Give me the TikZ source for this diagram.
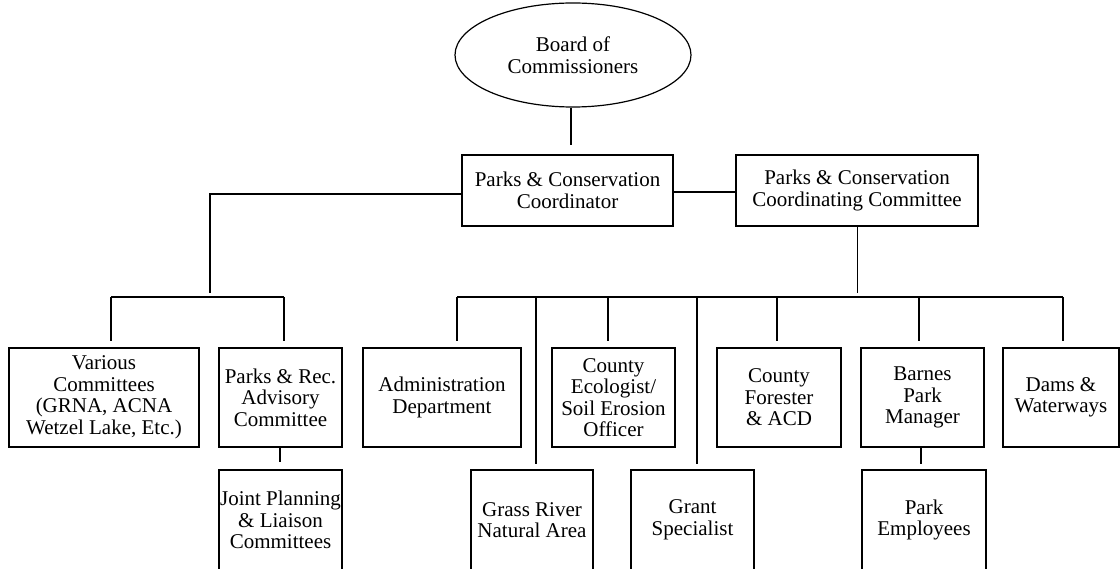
\documentclass[tikz,border=0pt]{standalone}
\usepackage{fontspec}
\setmainfont{Liberation Serif}
\usetikzlibrary{shapes.geometric}
\begin{document}
\begin{tikzpicture}[x=1pt,y=-1pt,
  line width=1.2pt,
  txt/.style={align=center, inner sep=0pt, font=\fontsize{21}{21.5}\selectfont},
  box/.style={txt, draw, rectangle, minimum height=99pt},
  lowbox/.style={txt, draw, rectangle, minimum height=100pt},
  oval/.style={txt, draw, ellipse, minimum width=236pt, minimum height=104pt},
  drop/.style={shorten >=6pt},
  gap/.style={shorten >=#1}]
\useasboundingbox (0,0) rectangle (1120,569);
% top
\node[oval] (board) at (573,55) {Board of\\Commissioners};
\node[box, minimum width=211pt, minimum height=71pt] (coord) at (567.5,190.5) {Parks \& Conservation\\Coordinator};
\node[box, minimum width=242pt, minimum height=71pt] (ccc) at (857,190.5) {Parks \& Conservation\\Coordinating Committee};
% left branch
\node[box, minimum width=190pt] (various) at (104,397.5) {Various\\Committees\\(GRNA, ACNA\\Wetzel Lake, Etc.)};
\node[box, minimum width=123pt] (prac) at (280.5,397.5) {Parks \& Rec.\\Advisory\\Committee};
\node[lowbox, minimum width=123pt] (joint) at (280.5,520) {Joint Planning\\\& Liaison\\Committees};
% right branch
\node[box, minimum width=158pt] (admin) at (442,397.5) {Administration\\Department};
\node[box, minimum width=123pt] (ecol) at (613.5,397.5) {County\\Ecologist/\\Soil Erosion\\Officer};
\node[box, minimum width=124pt] (forester) at (779,397.5) {County\\Forester\\\& ACD};
\node[box, minimum width=123pt] (barnes) at (922.5,397.5) {Barnes\\Park\\Manager};
\node[box, minimum width=116pt] (dams) at (1061,397.5) {Dams \&\\Waterways};
\node[lowbox, minimum width=122pt] (grass) at (532,520) {Grass River\\Natural Area};
\node[lowbox, minimum width=123pt] (grant) at (692.5,520) {Grant\\Specialist};
\node[lowbox, minimum width=124pt] (employees) at (924,520) {Park\\Employees};
% bus coordinates
\coordinate (ljoin) at (210,293);
\coordinate (lbl) at (111,297);
\coordinate (lbr) at (284,297);
\coordinate (rbl) at (457,297);
\coordinate (rbr) at (1063,297);
% connectors top
\draw[gap=9pt] ([xshift=-2pt]board.south) -- ([xshift=-2pt]board.south |- coord.north);
\draw ([yshift=-1.5pt]coord.east) -- ([yshift=-1.5pt]ccc.west);
\draw ([yshift=-3.5pt]coord.west) -| (ljoin);
\draw ([xshift=0.5pt]ccc.south) -- ++(0,66);
% left bus
\draw (lbl) -- (lbr);
\draw[drop] (lbl) -- ([xshift=7pt]various.north);
\draw[drop] (lbr) -- ([xshift=3.5pt]prac.north);
\draw[gap=7pt] ([xshift=-0.5pt]prac.south) -- ([xshift=-0.5pt]joint.north);
% right bus
\draw (rbl) -- (rbr);
\draw[drop] (rbl) -- ([xshift=15pt]admin.north);
\draw[gap=5pt] ([xshift=4pt]grass.north |- rbl) -- ([xshift=4pt]grass.north);
\draw[drop] ([xshift=-5.5pt]ecol.north |- rbl) -- ([xshift=-5.5pt]ecol.north);
\draw[gap=5pt] ([xshift=4.5pt]grant.north |- rbl) -- ([xshift=4.5pt]grant.north);
\draw[drop] ([xshift=-2pt]forester.north |- rbl) -- ([xshift=-2pt]forester.north);
\draw[drop] ([xshift=-3.5pt]barnes.north |- rbl) -- ([xshift=-3.5pt]barnes.north);
\draw[drop] (rbr) -- ([xshift=2pt]dams.north);
\draw[gap=5pt] ([xshift=-1.5pt]barnes.south) -- ([xshift=-3pt]employees.north);
\end{tikzpicture}
\end{document}
